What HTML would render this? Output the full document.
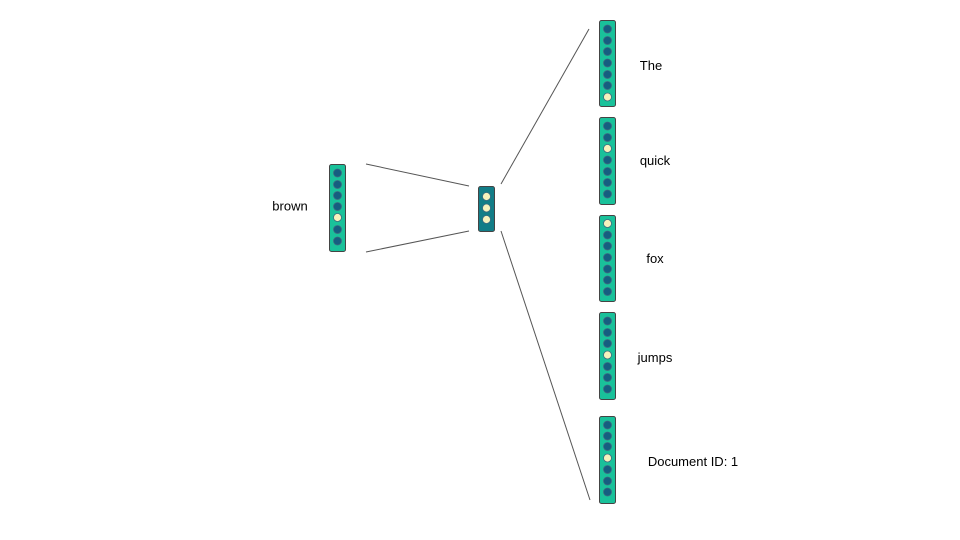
<!DOCTYPE html>
<html><head><meta charset="utf-8"><style>
html,body{margin:0;padding:0;background:#fff;width:960px;height:540px;overflow:hidden}
text{font-family:"Liberation Sans",sans-serif;font-size:13px;fill:#000}
</style></head><body>
<svg width="960" height="540" viewBox="0 0 960 540" xmlns="http://www.w3.org/2000/svg">
<g stroke="#555" stroke-width="1">
<line x1="366" y1="164" x2="469" y2="186"/>
<line x1="366" y1="252" x2="469" y2="231"/>
<line x1="501" y1="184" x2="589" y2="29"/>
<line x1="501" y1="231" x2="590" y2="500"/>
</g>
<g stroke="#444" stroke-width="1">
<rect x="329.5" y="164.5" width="16" height="87" rx="2" fill="#19c19a"/>
<rect x="478.5" y="186.5" width="16" height="45" rx="2" fill="#127d87"/>
<rect x="599.5" y="20.5" width="16" height="86" rx="2" fill="#19c19a"/>
<rect x="599.5" y="117.5" width="16" height="87" rx="2" fill="#19c19a"/>
<rect x="599.5" y="215.5" width="16" height="86" rx="2" fill="#19c19a"/>
<rect x="599.5" y="312.5" width="16" height="87" rx="2" fill="#19c19a"/>
<rect x="599.5" y="416.5" width="16" height="87" rx="2" fill="#19c19a"/>
</g>
<g stroke="#3d6a80" stroke-width="0.8" fill="#155e80">
<circle cx="337.5" cy="173" r="4"/><circle cx="337.5" cy="184.5" r="4"/><circle cx="337.5" cy="195.5" r="4"/><circle cx="337.5" cy="206.5" r="4"/><circle cx="337.5" cy="217.5" r="4" fill="#f6f2bd"/><circle cx="337.5" cy="229.5" r="4"/><circle cx="337.5" cy="241" r="4"/>
<circle cx="486.5" cy="196.5" r="4" fill="#f6f2bd"/><circle cx="486.5" cy="208" r="4" fill="#f6f2bd"/><circle cx="486.5" cy="219.5" r="4" fill="#f6f2bd"/>
<circle cx="607.5" cy="29" r="4"/><circle cx="607.5" cy="40.5" r="4"/><circle cx="607.5" cy="51.5" r="4"/><circle cx="607.5" cy="63" r="4"/><circle cx="607.5" cy="74.5" r="4"/><circle cx="607.5" cy="85.5" r="4"/><circle cx="607.5" cy="97" r="4" fill="#f6f2bd"/>
<circle cx="607.5" cy="126" r="4"/><circle cx="607.5" cy="137.5" r="4"/><circle cx="607.5" cy="148.5" r="4" fill="#f6f2bd"/><circle cx="607.5" cy="160" r="4"/><circle cx="607.5" cy="171.5" r="4"/><circle cx="607.5" cy="182.5" r="4"/><circle cx="607.5" cy="194" r="4"/>
<circle cx="607.5" cy="223.5" r="4" fill="#f6f2bd"/><circle cx="607.5" cy="235" r="4"/><circle cx="607.5" cy="246" r="4"/><circle cx="607.5" cy="257.5" r="4"/><circle cx="607.5" cy="269" r="4"/><circle cx="607.5" cy="280" r="4"/><circle cx="607.5" cy="291.5" r="4"/>
<circle cx="607.5" cy="321" r="4"/><circle cx="607.5" cy="332.5" r="4"/><circle cx="607.5" cy="343.5" r="4"/><circle cx="607.5" cy="355" r="4" fill="#f6f2bd"/><circle cx="607.5" cy="366.5" r="4"/><circle cx="607.5" cy="377.5" r="4"/><circle cx="607.5" cy="389" r="4"/>
<circle cx="607.5" cy="425" r="4"/><circle cx="607.5" cy="436" r="4"/><circle cx="607.5" cy="446.5" r="4"/><circle cx="607.5" cy="458" r="4" fill="#f6f2bd"/><circle cx="607.5" cy="469.5" r="4"/><circle cx="607.5" cy="481" r="4"/><circle cx="607.5" cy="492" r="4"/>
</g>
<text x="290" y="210.5" text-anchor="middle">brown</text>
<text x="651" y="70" text-anchor="middle">The</text>
<text x="655" y="165" text-anchor="middle">quick</text>
<text x="655" y="263" text-anchor="middle">fox</text>
<text x="655" y="362" text-anchor="middle">jumps</text>
<text x="693" y="466" text-anchor="middle">Document ID: 1</text>
</svg>
</body></html>
